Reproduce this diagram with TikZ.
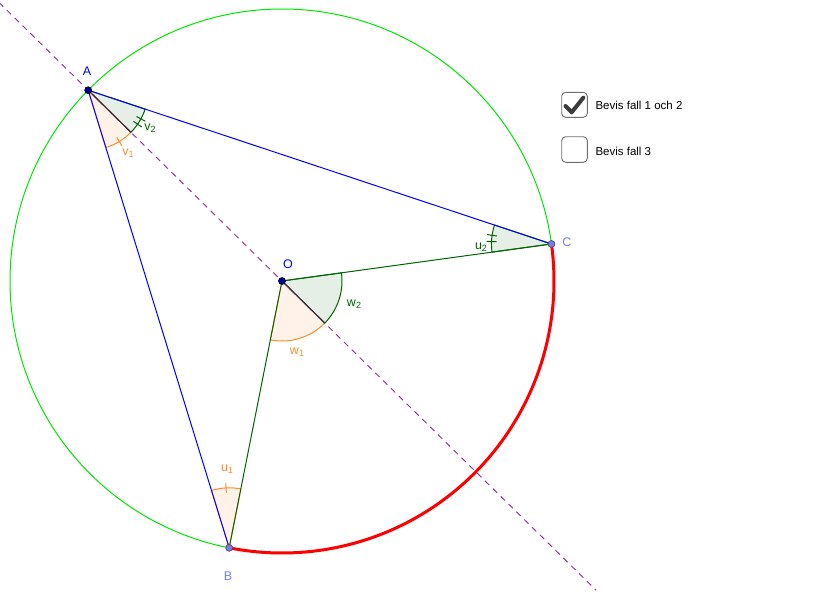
\documentclass[tikz,border=0pt]{standalone}
\usepackage{fontspec}
\setmainfont{Liberation Sans}
\usetikzlibrary{calc}
\definecolor{circgreen}{RGB}{0,230,0}
\definecolor{dkgreen}{RGB}{0,100,0}
\definecolor{orng}{RGB}{255,140,40}
\definecolor{purp}{RGB}{150,60,150}
\definecolor{ptdark}{RGB}{0,0,160}
\definecolor{ptlight}{RGB}{120,120,230}
\definecolor{lbllight}{RGB}{120,120,255}
\definecolor{boxgray}{RGB}{110,110,110}
\definecolor{checkgray}{RGB}{60,60,60}
\newcommand{\lblsub}[2]{#1\raisebox{-0.35ex}{\fontsize{9}{10}\selectfont #2}}
\tikzset{
  seg/.style={line width=1pt},
  greensec/.style={draw=dkgreen, fill=dkgreen, fill opacity=0.1, line width=1pt},
  orangesec/.style={draw=orng, fill=orng, fill opacity=0.1, line width=1pt},
  darkpt/.style={circle, fill=ptdark, draw=black, line width=0.6pt, inner sep=0pt, minimum size=7pt},
  lightpt/.style={circle, fill=ptlight, draw=black!70, line width=0.6pt, inner sep=0pt, minimum size=7pt},
  ptlbl/.style={font=\fontsize{12.5}{14}\selectfont},
  anglbl/.style={font=\fontsize{12.5}{14}\selectfont},
  cbox/.style={draw=boxgray, rounded corners=4pt, line width=0.9pt, fill=white},
  cbtext/.style={anchor=west, font=\fontsize{11.5}{13}\selectfont}
}
\begin{document}
\begin{tikzpicture}[x=1pt,y=-1pt]
\useasboundingbox (0,0) rectangle (821,598);
\coordinate (O) at (282,281);
\def\R{272}
\coordinate (A) at ($(O)+(224.55:\R)$);
\coordinate (B) at ($(O)+(101.2:\R)$);
\coordinate (C) at ($(O)+(-7.83:\R)$);
\coordinate (L1) at ($(A)!-0.46!(O)$);
\coordinate (L2) at ($(A)!2.62!(O)$);
% circle
\draw[circgreen, line width=1pt] (O) circle (\R);
% red arc B to C
\draw[red, line width=3pt] (C) arc (-7.83:101.2:\R);
% dashed line
\draw[purp, line width=1pt, dash pattern=on 6pt off 5pt] (L1) -- (L2);
% sectors
\draw[orangesec] (A) -- ++(44.55:60) arc (44.55:72.89:60) -- cycle;
\draw[greensec] (A) -- ++(18.38:60) arc (18.38:44.55:60) -- cycle;
\draw[orangesec] (B) -- ++(252.89:60) arc (252.89:281.2:60) -- cycle;
\draw[greensec] (C) -- ++(172.17:60) arc (172.17:198.38:60) -- cycle;
\draw[orangesec] (O) -- ++(44.55:60) arc (44.55:101.2:60) -- cycle;
\draw[greensec] (O) -- ++(-7.83:60) arc (-7.83:44.55:60) -- cycle;
\draw[purp!55!black, line width=1pt] (A) -- ++(44.55:60);
\draw[purp!55!black, line width=1pt] (O) -- ++(44.55:60);
% ticks
\draw[orng, line width=1pt] ($(A)+(58.72:55)$) -- ($(A)+(58.72:65)$);
\draw[orng, line width=1pt] ($(B)+(267.05:55)$) -- ($(B)+(267.05:65)$);
\draw[dkgreen, line width=1pt] ($(A)+(28.5:55)$) -- ($(A)+(28.5:65)$);
\draw[dkgreen, line width=1pt] ($(A)+(34.5:55)$) -- ($(A)+(34.5:65)$);
\draw[dkgreen, line width=1pt] ($(C)+(182.3:55)$) -- ($(C)+(182.3:65)$);
\draw[dkgreen, line width=1pt] ($(C)+(188.3:55)$) -- ($(C)+(188.3:65)$);
% segments
\draw[blue, seg] (A) -- (B);
\draw[blue, seg] (A) -- (C);
\draw[dkgreen, seg] (O) -- (B);
\draw[dkgreen, seg] (O) -- (C);
% points
\node[darkpt] (pA) at (A) {};
\node[darkpt] (pO) at (O) {};
\node[lightpt] (pB) at (B) {};
\node[lightpt] (pC) at (C) {};
% point labels
\node[ptlbl, text=blue] (lA) at (87,71) {A};
\node[ptlbl, text=blue] (lO) at (288,264) {O};
\node[ptlbl, text=lbllight] (lB) at (228,576) {B};
\node[ptlbl, text=lbllight] (lC) at (567,242) {C};
% angle labels
\node[anglbl, text=orng] (lv1) at (128,153) {\lblsub{v}{1}};
\node[anglbl, text=dkgreen] (lv2) at (150,128) {\lblsub{v}{2}};
\node[anglbl, text=orng] (lu1) at (227,469) {\lblsub{u}{1}};
\node[anglbl, text=dkgreen] (lu2) at (481,247) {\lblsub{u}{2}};
\node[anglbl, text=orng] (lw1) at (297,352) {\lblsub{w}{1}};
\node[anglbl, text=dkgreen] (lw2) at (354,304) {\lblsub{w}{2}};
% checkboxes
\draw[cbox] (561.7,92.3) rectangle (587.3,117.3);
\draw[checkgray, line width=4pt, line cap=round, line join=round] (565.5,106) -- (571.7,112.3) -- (583.3,97.7);
\node[cbtext] (t1) at (592,105) {Bevis fall 1 och 2};
\draw[cbox] (561.7,136.7) rectangle (587.3,162.3);
\node[cbtext] (t2) at (592,151) {Bevis fall 3};
\end{tikzpicture}
\end{document}
